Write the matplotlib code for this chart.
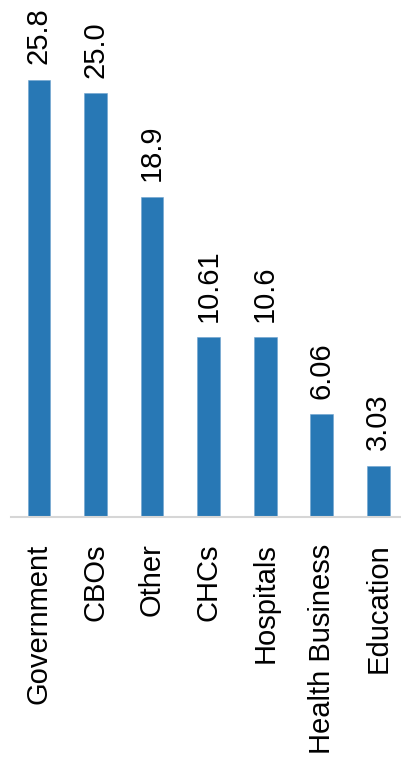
import matplotlib
matplotlib.use("Agg")
import matplotlib.pyplot as plt

categories = ["Government", "CBOs", "Other", "CHCs", "Hospitals", "Health Business", "Education"]
values = [25.8, 25.0, 18.9, 10.61, 10.6, 6.06, 3.03]
value_labels = ["25.8", "25.0", "18.9", "10.61", "10.6", "6.06", "3.03"]

plt.rcParams['font.family'] = ['Liberation Sans', 'DejaVu Sans']

fig = plt.figure(figsize=(4.01, 7.72), dpi=100)
ax = fig.add_axes([11 / 401, 255 / 772, 390 / 401, 517 / 772])

x = list(range(len(categories)))
bars = ax.bar(x, values, width=0.4, color="#2878b5", edgecolor="#6fa3cf", linewidth=0.4)

for b, lab in zip(bars, value_labels):
    ax.annotate(lab, (b.get_x() + b.get_width() / 2, b.get_height()),
                xytext=(0, 11), textcoords="offset points",
                rotation=90, ha="center", va="bottom", fontsize=21,
                color="black", annotation_clip=False)

ax.set_xlim(-0.495, 6.4)
ax.set_ylim(0, 517 / 16.95)
ax.set_xticks(x)
ax.set_xticklabels(categories, rotation=90, fontsize=21)
ax.tick_params(axis="x", length=0, pad=19)
ax.set_yticks([])
for s in ["top", "right", "left"]:
    ax.spines[s].set_visible(False)
ax.spines["bottom"].set_color("#d6d6d6")
ax.spines["bottom"].set_linewidth(1.5)

fig.savefig("out.png", dpi=100)
